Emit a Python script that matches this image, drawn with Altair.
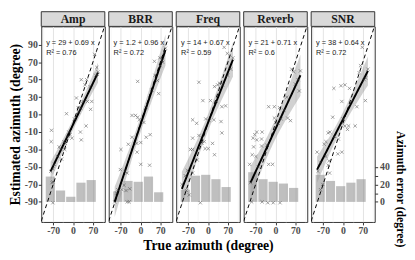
import altair as alt
import numpy as np
import pandas as pd

# ---------------- data ----------------
panels = ["Amp", "BRR", "Freq", "Reverb", "SNR"]
equations = ["y = 29 + 0.69 x", "y = 1.2 + 0.96 x", "y = 14 + 0.67 x",
             "y = 21 + 0.71 x", "y = 38 + 0.64 x"]
r2_labels = ["R² = 0.76", "R² = 0.72", "R² = 0.59", "R² = 0.6", "R² = 0.72"]

bin_centers = [-80, -44, -8, 28, 64]
amp_err = [29, 13, 6, 22, 25]
brr_err = [12, 24, 23, 29, 11]
freq_err = [14, 30, 31, 26, 17]
reverb_err = [34, 26, 23, 21, 16]
snr_err = [31, 24, 18, 22, 26]

# fitted (smoothing) line end points
fit_x0 = [-79, -91, -92, -88, -91]
fit_y0 = [-55, -90, -75, -68, -53]
fit_x1 = [88, 88, 88, 88, 88]
fit_y1 = [58, 84, 73, 55, 60]

amp_x = [76, 84, 88, 80, 86, 29, 48, 42, 60, 12, 51, 66, 35, 18, 27, 20, 62, -23, 5, 46,
         26, 29, -76, -77, -18, -10, -4, -15, -32, -27, -49, -43, -29, -55, -40, -66, -71,
         -79, -74, -71, -71]
amp_y = [79, 64, 59, 55, 56, 50, 50, 44, 42, 29, 25, 25, 25, 18, 17, 13, 16, 11, 5, -3,
         -10, -19, -8, -21, -15, -13, -17, -10, -21, -23, -27, -30, -30, -38, -41, -47, -52,
         -55, -68, -67, -91]

brr_x = [88, 84, 78, 70, 68, 49, 51, 60, 40, -10, 64, 20, -30, -18, -10, -4, 12, 34, 20,
         -30, -43, -13, 1, -69, -12, 1, 32, -71, -55, -47, -58, -66, -38, -51, -84, -47, -40,
         -91, -80, 76]
brr_y = [86, 82, 70, 66, 75, 71, 55, 49, 38, 48, 34, 18, 9, 9, 7, 4, 1, -13, -16,
         -16, -24, -23, -22, -30, -33, -47, -48, -53, -55, -57, -71, -76, -75, -77, -80, -90, -90,
         -90, -76, 72]

freq_x = [57, 68, 88, 80, 70, -32, 23, 34, 40, 51, -18, 9, 62, 49, 30, -54, -40, -8, 4, 21,
          46, 49, -54, -32, -21, -13, 16, -62, -54, -10, 1, 23, -38, -73, -54, -80, -92, -76,
          -66, -27]
freq_y = [87, 80, 75, 62, 55, 47, 42, 44, 46, 44, 26, 26, 20, 19, 25, 4, 0, 5, 3, 4,
          2, -11, -17, -14, -23, -21, -23, -30, -30, -29, -29, -36, -42, -54, -57, -60, -70, -77,
          -82, -91]

reverb_x = [64, 57, 88, 80, 70, 84, 40, -24, -4, 14, 30, -4, 1, 43, 53, 20, 10, -66, -47,
            -73, -79, -66, -49, -77, -49, -30, -82, -69, -24, -10, -91, -60, -88, -84, -47,
            -27, -8, 16]
reverb_y = [59, 62, 60, 50, 45, 37, 30, 19, 19, 18, 15, 6, 1, 6, 3, 5, 0, -10, -10,
            -13, -17, -19, -18, -27, -26, -25, -36, -38, -47, -47, -47, -50, -68, -90, -90,
            -91, -91, -91]

snr_x = [68, 62, 57, 88, 80, 75, 79, -32, -7, 7, 23, -4, 49, 30, -36, 7, 20, 43, 16, 0,
         -52, -46, -16, -30, -66, -60, -91, -18, -4, -60, -49, -52, -80, -47, -88, -71, -79]
snr_y = [87, 66, 58, 62, 52, 50, 26, 40, 43, 44, 40, 25, 19, 25, 7, -3, -3, -3, -7, 5,
         -11, -10, -18, -15, -24, -21, -33, -35, -33, -38, -43, -48, -45, -57, -55, -70, -76]

xs_all = [amp_x, brr_x, freq_x, reverb_x, snr_x]
ys_all = [amp_y, brr_y, freq_y, reverb_y, snr_y]
errs_all = [amp_err, brr_err, freq_err, reverb_err, snr_err]

# ---------------- layout / style ----------------
X_DOMAIN = [-112, 112]
Y_DOMAIN = [-113, 111]
ERR_SHIFT = 90
W, H = 65, 200
STRIP = 15
BAR_HALF = 16.2
SERIF = "Liberation Serif"
SANS = "Liberation Sans"

xscale = alt.Scale(domain=X_DOMAIN, nice=False, zero=False)
yscale = alt.Scale(domain=Y_DOMAIN, nice=False, zero=False)
escale = alt.Scale(domain=[Y_DOMAIN[0] + ERR_SHIFT, Y_DOMAIN[1] + ERR_SHIFT], nice=False, zero=False)

X_MAJOR = "datum.value % 70 == 0"
Y_MAJOR = "abs(datum.value) % 20 == 10"


def cond(test, a, b):
    return {"condition": {"test": test, "value": a}, "value": b}


def x_axis(title):
    return alt.Axis(values=[-105, -70, -35, 0, 35, 70, 105],
                    labelExpr=f"{X_MAJOR} ? '' + datum.value : ''",
                    tickOpacity=cond(X_MAJOR, 1, 0),
                    gridColor=cond(X_MAJOR, "#e3e3e3", "#f1f1f1"),
                    gridWidth=cond(X_MAJOR, 1, 0.6),
                    labelPadding=1, titlePadding=3, title=title)


def y_axis(first):
    return alt.Axis(values=list(range(-100, 101, 10)),
                    labelExpr=f"{Y_MAJOR} ? '' + datum.value : ''",
                    tickOpacity=cond(Y_MAJOR, 1 if first else 0, 0),
                    gridColor=cond(Y_MAJOR, "#e3e3e3", "#f1f1f1"),
                    gridWidth=cond(Y_MAJOR, 1, 0.6),
                    labels=first, labelPadding=1, titlePadding=2,
                    title="Estimated azimuth (degree)" if first else None,
                    orient="left")


def fit_band(i, n=60):
    x = np.asarray(xs_all[i], float)
    y = np.asarray(ys_all[i], float)
    b = (fit_y1[i] - fit_y0[i]) / (fit_x1[i] - fit_x0[i])
    a = fit_y0[i] - b * fit_x0[i]
    grid = np.linspace(fit_x0[i], fit_x1[i], n)
    yhat = a + b * grid
    res = y - (a + b * x)
    s = np.sqrt(np.sum(res ** 2) / (len(x) - 2))
    se = s * np.sqrt(1 / len(x) + (grid - x.mean()) ** 2 / np.sum((x - x.mean()) ** 2))
    return pd.DataFrame({"x": grid, "fit": yhat, "lo": yhat - 2.02 * se, "hi": yhat + 2.02 * se})


def make_panel(i):
    name = panels[i]
    first = i == 0
    last = i == len(panels) - 1
    xa = x_axis("True azimuth (degree)" if i == 2 else None)
    ya = y_axis(first)

    def X(f):
        return alt.X(f, scale=xscale, axis=xa)

    def Y(f):
        return alt.Y(f, scale=yscale, axis=ya)

    pts = pd.DataFrame({"x": xs_all[i], "y": ys_all[i]})
    fit = fit_band(i)
    bars = pd.DataFrame({"c": bin_centers, "err": errs_all[i]})
    ident = pd.DataFrame({"v": X_DOMAIN})
    one = pd.DataFrame({"name": [name]})

    band = alt.Chart(fit).mark_area(color="#999999", opacity=0.45, clip=True).encode(
        x=X("x:Q"), y=Y("lo:Q"), y2="hi:Q")
    line = alt.Chart(fit).mark_line(color="black", strokeWidth=2, clip=True).encode(
        x=X("x:Q"), y=Y("fit:Q"))
    points = alt.Chart(pts).mark_point(shape="M-1,-1L1,1M-1,1L1,-1", size=11, filled=False,
                                       strokeWidth=0.7, color="#444444", clip=True).encode(
        x=X("x:Q"), y=Y("y:Q"))
    dashed = alt.Chart(ident).mark_line(color="black", strokeWidth=1, strokeDash=[4, 3],
                                        clip=True).encode(x=X("v:Q"), y=Y("v:Q"))
    strip_rect = alt.Chart(one).mark_rect(fill="#d9d9d9", stroke="#333333", strokeWidth=1).encode(
        x=alt.value(0), x2=alt.value(W), y=alt.value(-STRIP), y2=alt.value(0))
    strip_text = alt.Chart(one).mark_text(font=SERIF, fontWeight="bold", fontSize=12,
                                          color="#1a1a1a", baseline="middle").encode(
        text="name:N", x=alt.value(W / 2), y=alt.value(-STRIP / 2))
    eq_text = alt.Chart(one).mark_text(font=SANS, fontSize=7.5, align="left", baseline="middle",
                                       color="#1a1a1a").encode(
        text=alt.value(equations[i]), x=alt.value(5), y=alt.value(17))
    r2_text = alt.Chart(one).mark_text(font=SANS, fontSize=7.5, align="left", baseline="middle",
                                       color="#1a1a1a").encode(
        text=alt.value(r2_labels[i]), x=alt.value(5), y=alt.value(27))

    inner = alt.layer(band, line, points, dashed, strip_rect, strip_text, eq_text, r2_text)

    if last:
        ea = alt.Axis(orient="right", values=[0, 10, 20, 30, 40], grid=False,
                      title="Azimuth error (degree)", titleFontSize=12, titleAngle=90,
                      titleY=166, titlePadding=4, labelPadding=2,
                      labelExpr="'' + datum.value")
    else:
        ea = None
    bar_chart = alt.Chart(bars).transform_calculate(
        x0=f"datum.c - {BAR_HALF}", x1=f"datum.c + {BAR_HALF}", zero="0"
    ).mark_rect(color="#808080", opacity=0.5).encode(
        x=X("x0:Q"), x2="x1:Q",
        y=alt.Y("err:Q", scale=escale, axis=ea), y2="zero:Q")

    return alt.layer(bar_chart, inner).resolve_scale(y="independent").properties(width=W, height=H)


chart = alt.hconcat(*[make_panel(i) for i in range(len(panels))], spacing=4,
                    bounds="flush").properties(
    padding={"left": 0, "top": 0, "right": 0, "bottom": 0}
).configure_view(stroke="#333333", strokeWidth=1).configure_axis(
    labelFont=SERIF, labelFontWeight="bold", labelFontSize=10, labelColor="#4d4d4d",
    titleFont=SERIF, titleFontWeight="bold", titleFontSize=14, titleColor="black",
    tickColor="#333333", tickSize=3, domain=False, labelFlush=False
)

chart.save("out.html", embed_options={"renderer": "svg", "actions": False})
